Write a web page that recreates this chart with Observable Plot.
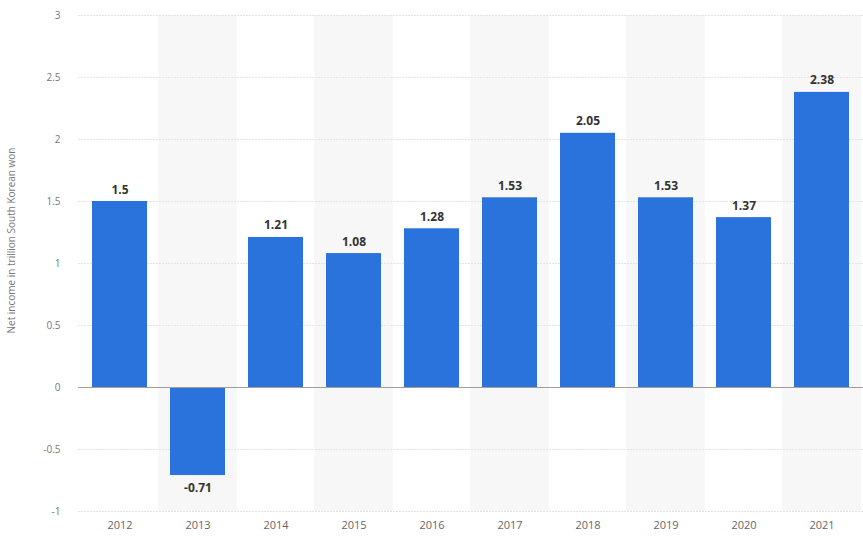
<!DOCTYPE html>
<html>
<head>
<meta charset="utf-8">
<script src="https://cdn.jsdelivr.net/npm/d3@7"></script>
<script src="https://cdn.jsdelivr.net/npm/@observablehq/plot@0.6"></script>
<style>
  html, body { margin: 0; padding: 0; background: #fff; }
  #chart { width: 863px; height: 541px; }
</style>
</head>
<body>
<div id="chart"></div>
<script>
const years = ["2012","2013","2014","2015","2016","2017","2018","2019","2020","2021"];
const netIncome = [1.5, -0.71, 1.21, 1.08, 1.28, 1.53, 2.05, 1.53, 1.37, 2.38];
const yTicks = [-1, -0.5, 0, 0.5, 1, 1.5, 2, 2.5, 3];
const yLabel = "Net income in trillion South Korean won";

const data = years.map((y, i) => ({year: y, value: netIncome[i]}));
const shaded = years.filter((y, i) => i % 2 === 1).map(y => ({year: y}));

const chart = Plot.plot({
  width: 863,
  height: 541,
  marginLeft: 78,
  marginRight: 0,
  marginTop: 15,
  marginBottom: 30,
  style: {fontFamily: "'Open Sans', sans-serif", fontSize: "10px", color: "#666", background: "#fff"},
  x: {domain: years, paddingInner: 0.3, paddingOuter: 0.15, label: null},
  y: {domain: [-1, 3], ticks: yTicks, label: null},
  marks: [
    Plot.barY(shaded, {x: "year", y1: -1, y2: 3, fill: "#f7f7f7", insetLeft: -11.8, insetRight: -11.8}),
    Plot.ruleY(yTicks.filter(d => d !== 0), {stroke: "#e4e4e4", strokeDasharray: "2,1"}),
    Plot.axisY({ticks: yTicks, tickSize: 0, tickPadding: 18, fontSize: 10, fill: "#777",
      tickFormat: d => d === 0 ? "0" : String(d), label: null}),
    Plot.axisX({tickSize: 0, tickPadding: 10, fontSize: 11, fill: "#666", label: null}),
    Plot.barY(data, {x: "year", y: "value", fill: "#2a72dc"}),
    Plot.ruleY([0], {stroke: "#a59d96", strokeWidth: 1.2}),
    Plot.text(data.filter(d => d.value >= 0), {x: "year", y: "value", text: d => String(d.value),
      lineAnchor: "bottom", dy: -8, fontWeight: "bold", fontSize: 12, fill: "#333"}),
    Plot.text(data.filter(d => d.value < 0), {x: "year", y: "value", text: d => "-" + String(Math.abs(d.value)),
      lineAnchor: "top", dy: 8, fontWeight: "bold", fontSize: 12, fill: "#333"}),
    Plot.text([yLabel], {frameAnchor: "left", textAnchor: "middle", dx: -67, dy: -23, rotate: -90, text: d => d, fontSize: 10, fill: "#777"})
  ]
});
document.getElementById("chart").appendChild(chart);
</script>
</body>
</html>
